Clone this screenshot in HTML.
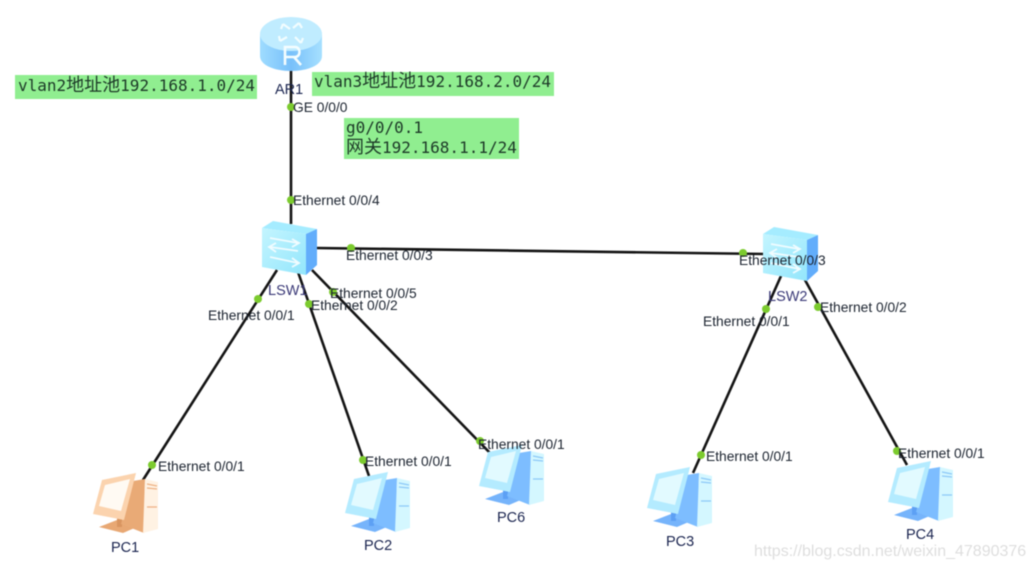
<!DOCTYPE html>
<html>
<head>
<meta charset="utf-8">
<style>
html,body{margin:0;padding:0;background:#fff;width:1035px;height:569px;overflow:hidden}
svg{display:block;filter:blur(0.4px)}
text{font-family:"Liberation Sans","Noto Sans CJK SC",sans-serif}
.p{font-size:13.8px;fill:#1c2430}
.n{font-size:14.5px;fill:#1b2550}
.s{font-size:14.5px;fill:#3b3a78}
.m{font-family:"DejaVu Sans Mono","Noto Sans CJK SC",monospace;font-size:16px;fill:#1d3a28}
.m tspan{font-family:"Noto Sans CJK SC",sans-serif;font-size:18px}
.l{stroke:#141414;stroke-width:2.6;fill:none}
.d{fill:#7ccb2e}
</style>
</head>
<body>
<svg width="1035" height="569" viewBox="0 0 1035 569" xmlns="http://www.w3.org/2000/svg">
<defs>
<linearGradient id="rb" x1="0" x2="1" y1="0" y2="0">
<stop offset="0" stop-color="#9fdcff"/><stop offset=".5" stop-color="#78c0fa"/><stop offset="1" stop-color="#a6e0ff"/>
</linearGradient>
<linearGradient id="sw" x1="0" x2="1" y1="0" y2="1">
<stop offset="0" stop-color="#c4f5ff"/><stop offset="1" stop-color="#93e6fc"/>
</linearGradient>
<g id="sicon">
<polygon points="262,228 273,221 317,229 306,234" fill="#a5ecff"/>
<polygon points="262,228 306,234 306,275 262,267" fill="url(#sw)"/>
<polygon points="306,234 317,229 317,265 306,275" fill="#62adfb"/>
<g fill="none" stroke="#f0fcff" stroke-width="1.8">
<path d="M270,238 L298,243 M292,239 L299,243 L292,247"/>
<path d="M298,251 L270,247 M276,243 L269,247 L276,252"/>
<path d="M270,257 L298,263 M292,258 L299,263 L292,267"/>
</g>
</g>
<g id="pcb">
<polygon points="6,54 24,47 44,54 30,60" fill="#76b4fb"/>
<polygon points="24,44 29,44 29,54 24,54" fill="#5da0f4"/>
<polygon points="40,8 52,6 51,60 28,51" fill="#7dbdff"/>
<polygon points="52,6 65,9 65,56 50,60" fill="#d4f7ff"/>
<path d="M54,11 L64,13 M54,15 L64,16 M54,34 L64,34" stroke="#8cc8f8" stroke-width="1.2"/>
<polygon points="9,7 43,0 31,47 0,41" fill="#b4ebff"/>
<polygon points="12,12 37,6 28,38 6,33" fill="#e2fafF"/>
</g>
<g id="pco">
<polygon points="6,54 24,47 44,54 30,60" fill="#e8a874"/>
<polygon points="24,44 29,44 29,54 24,54" fill="#d99560"/>
<polygon points="40,8 52,6 51,60 28,51" fill="#e9aa76"/>
<polygon points="52,6 65,9 65,56 50,60" fill="#fff2e3"/>
<path d="M54,11 L64,13 M54,15 L64,16 M54,34 L64,34" stroke="#eeb184" stroke-width="1.2"/>
<polygon points="9,7 43,0 31,47 0,41" fill="#fbd3ae"/>
<polygon points="12,12 37,6 28,38 6,33" fill="#fffaf3"/>
</g>
</defs>

<rect x="15" y="75" width="242" height="24" fill="#90ee90"/>
<rect x="312" y="72" width="242" height="24" fill="#90ee90"/>
<rect x="344" y="118" width="175" height="41" fill="#90ee90"/>

<!-- links -->
<line class="l" x1="291" y1="68" x2="291" y2="224"/>
<line class="l" x1="316" y1="248" x2="765" y2="254"/>
<line class="l" x1="277" y1="270" x2="143" y2="480"/>
<line class="l" x1="298" y1="272" x2="369" y2="476"/>
<line class="l" x1="312" y1="270" x2="490" y2="453"/>
<line class="l" x1="781" y1="276" x2="693" y2="473"/>
<line class="l" x1="805" y1="280" x2="907" y2="465"/>

<!-- router -->
<g>
<path d="M260,34 L260,56 C260,65 274,71 291,71 C308,71 322,65 322,56 L322,34 Z" fill="url(#rb)"/>
<ellipse cx="291" cy="34" rx="31" ry="17" fill="#c0ecff"/>
<g fill="none" stroke="#f2fdff" stroke-width="2.2">
<path d="M283,24 L290,29 M283,24 L281,29 M299,23 L293,28 M299,23 L302,28 M280,41 L287,37 M280,41 L279,36 M301,43 L295,37 M301,43 L303,38"/>
</g>
<path d="M285,65 L285,47 L295,47 C301,47 301,57 295,57 L285,57 M294,57 L301,65" fill="none" stroke="#f4fdff" stroke-width="2.6"/>
</g>

<use href="#sicon"/>
<use href="#sicon" transform="translate(501,6)"/>

<use href="#pco" transform="translate(93,473)"/>
<use href="#pcb" transform="translate(345,472)"/>
<use href="#pcb" transform="translate(479,445)"/>
<use href="#pcb" transform="translate(647,467)"/>
<use href="#pcb" transform="translate(888,461)"/>

<!-- dots -->
<circle class="d" cx="291" cy="107" r="4"/>
<circle class="d" cx="291" cy="200" r="4"/>
<circle class="d" cx="351" cy="248" r="4"/>
<circle class="d" cx="743" cy="253" r="4"/>
<circle class="d" cx="258" cy="299" r="4"/>
<circle class="d" cx="309" cy="304" r="4"/>
<circle class="d" cx="333" cy="292" r="4"/>
<circle class="d" cx="152" cy="465" r="4"/>
<circle class="d" cx="363" cy="460" r="4"/>
<circle class="d" cx="480" cy="441" r="4"/>
<circle class="d" cx="766" cy="309" r="4"/>
<circle class="d" cx="818" cy="307" r="4"/>
<circle class="d" cx="701" cy="455" r="4"/>
<circle class="d" cx="897" cy="451" r="4"/>

<!-- highlighted labels -->
<text class="m" x="18" y="91">vlan2<tspan>地址池</tspan>192.168.1.0/24</text>
<text class="m" x="314" y="87">vlan3<tspan>地址池</tspan>192.168.2.0/24</text>
<text class="m" x="346" y="133">g0/0/0.1</text>
<text class="m" x="346" y="153"><tspan>网关</tspan>192.168.1.1/24</text>

<!-- port labels -->
<text class="p" x="293" y="112">GE 0/0/0</text>
<text class="p" x="293" y="205">Ethernet 0/0/4</text>
<text class="p" x="346" y="260">Ethernet 0/0/3</text>
<text class="p" x="330" y="298">Ethernet 0/0/5</text>
<text class="p" x="311" y="310">Ethernet 0/0/2</text>
<text class="p" x="208" y="320">Ethernet 0/0/1</text>
<text class="p" x="158" y="471">Ethernet 0/0/1</text>
<text class="p" x="365" y="466">Ethernet 0/0/1</text>
<text class="p" x="478" y="449">Ethernet 0/0/1</text>
<text class="p" x="739" y="265">Ethernet 0/0/3</text>
<text class="p" x="820" y="312">Ethernet 0/0/2</text>
<text class="p" x="703" y="326">Ethernet 0/0/1</text>
<text class="p" x="706" y="461">Ethernet 0/0/1</text>
<text class="p" x="898" y="458">Ethernet 0/0/1</text>

<!-- node labels -->
<text class="n" x="275" y="94">AR1</text>
<text class="s" x="268" y="295">LSW1</text>
<text class="s" x="768" y="301">LSW2</text>
<text class="n" x="111" y="552">PC1</text>
<text class="n" x="364" y="550">PC2</text>
<text class="n" x="497" y="522">PC6</text>
<text class="n" x="666" y="546">PC3</text>
<text class="n" x="906" y="539">PC4</text>

<text x="754" y="556" font-size="16" fill="#dedede">https://blog.csdn.net/weixin_47890376</text>
</svg>
</body>
</html>
